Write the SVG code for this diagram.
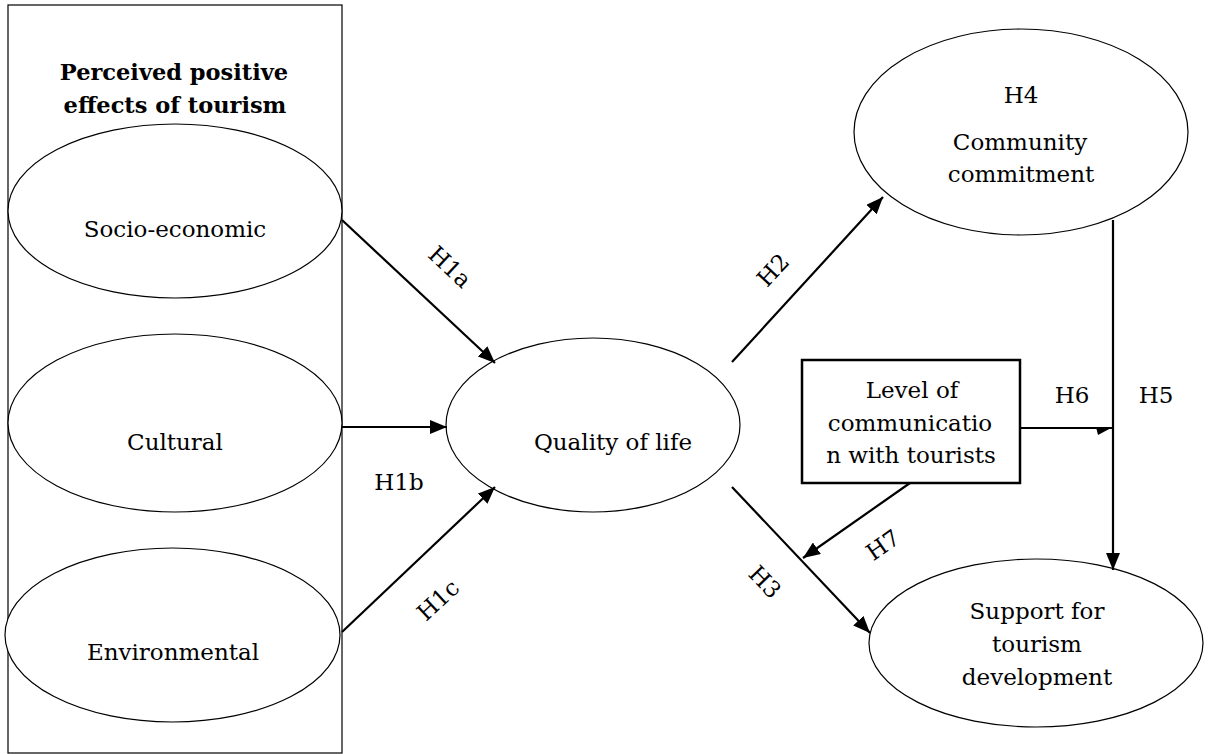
<svg xmlns="http://www.w3.org/2000/svg" width="1210" height="754" viewBox="0 0 1210 754">
<style>
.bg{fill:#fff}
.ell{fill:#fff;stroke:#000;stroke-width:1.2}
.frame{fill:none;stroke:#000;stroke-width:1.2}
.box{fill:#fff;stroke:#000;stroke-width:2.5}
.t{font-family:"DejaVu Serif","Liberation Serif",serif;font-size:23px;fill:#000;text-anchor:middle}
.tb{font-family:"DejaVu Serif","Liberation Serif",serif;font-size:22.5px;font-weight:bold;fill:#000;text-anchor:middle}
.ln{stroke:#000;stroke-width:2.2;fill:none}
.arr{stroke:#000;stroke-width:2.2;fill:none;marker-end:url(#ah)}
</style>
<defs>
<marker id="ah" markerUnits="userSpaceOnUse" markerWidth="18" markerHeight="14" refX="17" refY="7" orient="auto">
<path d="M0,0 L17,7 L0,14 z" fill="#000"/>
</marker>
</defs>
<rect class="bg" x="0" y="0" width="1210" height="754"/>

<g id="group-perceived">
<rect class="frame" x="8" y="5" width="334" height="748"/>
<text class="tb" x="174" y="80">Perceived positive</text>
<text class="tb" x="175" y="113">effects of tourism</text>
</g>

<g id="node-socio">
<ellipse class="ell" cx="175" cy="211" rx="167" ry="87"/>
<text class="t" x="175" y="237">Socio-economic</text>
</g>

<g id="node-cultural">
<ellipse class="ell" cx="175" cy="423" rx="167" ry="89"/>
<text class="t" x="175" y="450">Cultural</text>
</g>

<g id="node-environmental">
<ellipse class="ell" cx="172.5" cy="635" rx="167.5" ry="87"/>
<text class="t" x="173" y="660">Environmental</text>
</g>

<g id="node-quality">
<ellipse class="ell" cx="593" cy="425" rx="147" ry="87"/>
<text class="t" x="613" y="450">Quality of life</text>
</g>

<g id="node-community">
<ellipse class="ell" cx="1021" cy="132" rx="167" ry="103"/>
<text class="t" x="1021" y="103">H4</text>
<text class="t" x="1020" y="150">Community</text>
<text class="t" x="1021" y="182">commitment</text>
</g>

<g id="node-support">
<ellipse class="ell" cx="1036" cy="643" rx="167" ry="84"/>
<text class="t" x="1037" y="619">Support for</text>
<text class="t" x="1037" y="652">tourism</text>
<text class="t" x="1037" y="685">development</text>
</g>

<g id="node-communication">
<rect class="box" x="802" y="360" width="218" height="123"/>
<text class="t" x="912" y="398">Level of</text>
<text class="t" x="910" y="431">communicatio</text>
<text class="t" x="911" y="463">n with tourists</text>
</g>

<g id="connectors">
<line class="arr" x1="342" y1="220" x2="495" y2="363"/>
<line class="arr" x1="342" y1="427" x2="447" y2="427"/>
<line class="arr" x1="342" y1="632" x2="495" y2="487"/>
<line class="arr" x1="732" y1="362" x2="883" y2="197"/>
<line class="arr" x1="732" y1="487" x2="870" y2="633"/>
<line class="arr" x1="1113" y1="220" x2="1113" y2="570"/>
<line class="ln" x1="1020" y1="428" x2="1113" y2="428"/>
<polygon points="1113,427 1096,427 1098,435" fill="#000"/>
<line class="arr" x1="910" y1="483" x2="803" y2="558"/>
</g>

<g id="labels">
<text class="t" transform="rotate(43 450 267)" x="450" y="275">H1a</text>
<text class="t" x="399" y="490">H1b</text>
<text class="t" transform="rotate(-43 438 600)" x="438" y="608">H1c</text>
<text class="t" transform="rotate(-47 773 270)" x="773" y="278">H2</text>
<text class="t" transform="rotate(46 765 582)" x="765" y="590">H3</text>
<text class="t" x="1072" y="403">H6</text>
<text class="t" x="1156" y="403">H5</text>
<text class="t" transform="rotate(-35 883 545)" x="883" y="553">H7</text>
</g>
</svg>
